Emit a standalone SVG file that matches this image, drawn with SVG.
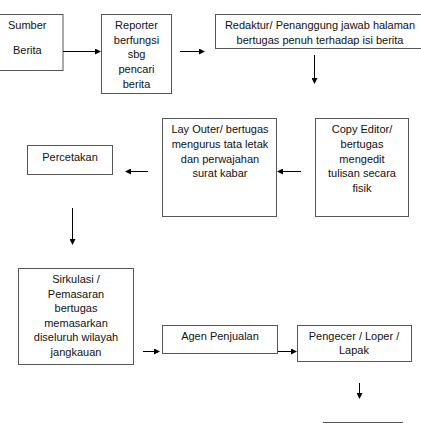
<svg xmlns="http://www.w3.org/2000/svg" width="421" height="423" viewBox="0 0 421 423">
<defs>
<marker id="ah" markerWidth="6" markerHeight="6" refX="5" refY="3" orient="auto" markerUnits="userSpaceOnUse">
<path d="M0,0 L6,3 L0,6 Z" fill="#000"/>
</marker>
<style>
.box{fill:#fff;stroke:#555;stroke-width:1}
.t{font-family:"Liberation Sans",Arial,sans-serif;font-size:11px;fill:#111;text-anchor:middle}
.tl{font-family:"Liberation Sans",Arial,sans-serif;font-size:11px;fill:#111}
.c{stroke:#000;stroke-width:1;fill:none;marker-end:url(#ah)}
</style>
</defs>
<rect width="421" height="423" fill="#fff"/>
<g id="sumber">
<rect class="box" x="-1" y="14.5" width="64" height="56"/>
<text class="tl" x="8" y="29">Sumber</text>
<text class="tl" x="13" y="54">Berita</text>
</g>
<g id="reporter">
<rect class="box" x="101.5" y="14.5" width="70" height="79"/>
<text class="t" x="136.5" y="29">Reporter</text>
<text class="t" x="136.5" y="43.5">berfungsi</text>
<text class="t" x="136.5" y="58">sbg</text>
<text class="t" x="136.5" y="73">pencari</text>
<text class="t" x="136.5" y="87.5">berita</text>
</g>
<g id="redaktur">
<rect class="box" x="215.5" y="14.5" width="206" height="34"/>
<text class="t" x="320" y="29">Redaktur/ Penanggung jawab halaman</text>
<text class="t" x="320" y="44">bertugas penuh terhadap isi berita</text>
</g>
<g id="layouter">
<rect class="box" x="162.5" y="118.5" width="114" height="98"/>
<text class="t" x="220" y="133">Lay Outer/ bertugas</text>
<text class="t" x="220" y="148">mengurus tata letak</text>
<text class="t" x="220" y="162.5">dan perwajahan</text>
<text class="t" x="220" y="177">surat kabar</text>
</g>
<g id="copyeditor">
<rect class="box" x="315.5" y="118.5" width="93" height="98"/>
<text class="t" x="362" y="133">Copy Editor/</text>
<text class="t" x="362" y="148">bertugas</text>
<text class="t" x="362" y="162.5">mengedit</text>
<text class="t" x="362" y="177">tulisan secara</text>
<text class="t" x="362" y="191.5">fisik</text>
</g>
<g id="percetakan">
<rect class="box" x="27.5" y="145.5" width="85" height="29"/>
<text class="t" x="70" y="161">Percetakan</text>
</g>
<g id="sirkulasi">
<rect class="box" x="18.5" y="268.5" width="115" height="96"/>
<text class="t" x="76" y="283">Sirkulasi /</text>
<text class="t" x="76" y="297.5">Pemasaran</text>
<text class="t" x="76" y="312">bertugas</text>
<text class="t" x="76" y="326.5">memasarkan</text>
<text class="t" x="76" y="341">diseluruh wilayah</text>
<text class="t" x="76" y="355.5">jangkauan</text>
</g>
<g id="agen">
<rect class="box" x="162.5" y="325.5" width="115" height="28"/>
<text class="t" x="220" y="340">Agen Penjualan</text>
</g>
<g id="pengecer">
<rect class="box" x="297.5" y="325.5" width="114" height="36"/>
<text class="t" x="354" y="340">Pengecer / Loper /</text>
<text class="t" x="354" y="354">Lapak</text>
</g>
<g id="bottom">
<rect class="box" x="323.5" y="422.5" width="79" height="30"/>
</g>
<g id="connectors">
<line class="c" x1="63" y1="51.5" x2="100" y2="51.5"/>
<line class="c" x1="180" y1="51.5" x2="204" y2="51.5"/>
<line class="c" x1="314.5" y1="55" x2="314.5" y2="83"/>
<line class="c" x1="301" y1="171.5" x2="278" y2="171.5"/>
<line class="c" x1="148" y1="171.5" x2="126" y2="171.5"/>
<line class="c" x1="72.5" y1="208" x2="72.5" y2="244"/>
<line class="c" x1="143" y1="351.5" x2="159" y2="351.5"/>
<line class="c" x1="278" y1="351.5" x2="296" y2="351.5"/>
<line class="c" x1="359.5" y1="383" x2="359.5" y2="398"/>
</g>
</svg>
